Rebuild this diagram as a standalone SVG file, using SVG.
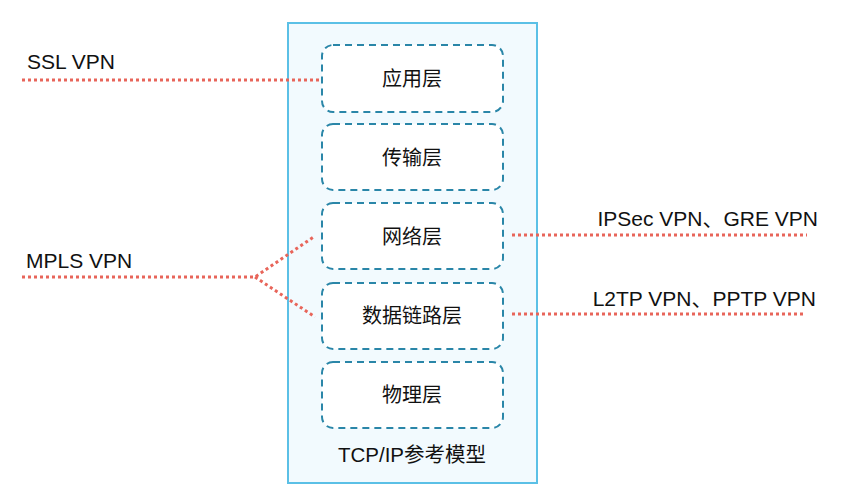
<svg xmlns="http://www.w3.org/2000/svg" width="853" height="490" viewBox="0 0 853 490">
<style>
.outer{fill:#f2fafe;stroke:#5bc0e6;stroke-width:2}
.layer{fill:#ffffff;stroke:#2a86a8;stroke-width:2;stroke-dasharray:7 5}
.lbl{font-family:"Liberation Sans","Noto Sans CJK SC",sans-serif;font-size:21px;fill:#111}
.cn{font-size:20px}
.c{text-anchor:middle}
.r{text-anchor:end}
.conn{fill:none;stroke:#e8655a;stroke-width:3;stroke-dasharray:3 3}
</style>
<rect width="853" height="490" fill="#ffffff"/>
<g id="model">
<rect class="outer" x="288" y="23" width="249" height="460"/>
<text class="lbl c" x="412" y="462" style="font-size:20.5px">TCP/IP参考模型</text>
</g>
<g id="app"><rect class="layer" x="322" y="45" width="181" height="67" rx="11"/><text class="lbl cn c" x="412" y="86">应用层</text></g>
<g id="transport"><rect class="layer" x="322" y="124" width="181" height="66" rx="11"/><text class="lbl cn c" x="412" y="165">传输层</text></g>
<g id="network"><rect class="layer" x="322" y="203" width="181" height="66" rx="11"/><text class="lbl cn c" x="412" y="244">网络层</text></g>
<g id="datalink"><rect class="layer" x="322" y="283" width="181" height="66" rx="11"/><text class="lbl cn c" x="412" y="323">数据链路层</text></g>
<g id="physical"><rect class="layer" x="322" y="362" width="181" height="66" rx="11"/><text class="lbl cn c" x="412" y="402">物理层</text></g>
<g id="labels">
<text class="lbl" x="27" y="69">SSL VPN</text>
<text class="lbl" x="26" y="268">MPLS VPN</text>
<text class="lbl r" x="818" y="226">IPSec VPN、GRE VPN</text>
<text class="lbl r" x="816" y="306">L2TP VPN、PPTP VPN</text>
</g>
<g id="connectors">
<path class="conn" d="M22 80 H320"/>
<path class="conn" d="M22 277 H255 L315 236"/>
<path class="conn" d="M255 277 L315 317"/>
<path class="conn" d="M512 235 H807"/>
<path class="conn" d="M512 314 H806"/>
</g>
</svg>
